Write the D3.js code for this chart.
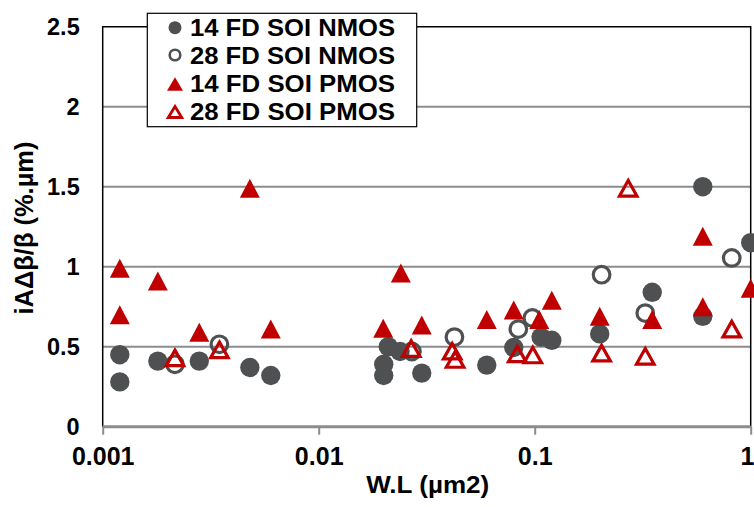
<!DOCTYPE html>
<html>
<head>
<meta charset="utf-8">
<script src="https://cdn.jsdelivr.net/npm/d3@7"></script>
<style>
  html, body { margin: 0; padding: 0; background: #fff; }
  svg { display: block; }
  text { font-family: "Liberation Sans", Arial, sans-serif; font-weight: bold; fill: #000; }
</style>
</head>
<body>
<svg id="chart" width="754" height="507"></svg>
<script>
// ---- data ----
const seriesNames = ["14 FD SOI NMOS", "28 FD SOI NMOS", "14 FD SOI PMOS", "28 FD SOI PMOS"];

const nmos14X = [0.0012, 0.0012, 0.0018, 0.0028, 0.0048, 0.006, 0.02, 0.02, 0.021, 0.0238, 0.03, 0.06, 0.08, 0.107, 0.12, 0.2, 0.35, 0.6, 0.6, 1.0];
const nmos14Y = [0.45, 0.28, 0.41, 0.41, 0.37, 0.32, 0.39, 0.32, 0.50, 0.47, 0.335, 0.385, 0.495, 0.56, 0.54, 0.58, 0.84, 1.50, 0.69, 1.15];

const nmos28X = [0.00216, 0.00347, 0.027, 0.0425, 0.084, 0.0975, 0.204, 0.325, 0.817];
const nmos28Y = [0.39, 0.515, 0.47, 0.56, 0.61, 0.68, 0.95, 0.71, 1.055];

const pmos14X = [0.0012, 0.0012, 0.0018, 0.0028, 0.0048, 0.006, 0.0199, 0.024, 0.030, 0.06, 0.08, 0.105, 0.12, 0.2, 0.35, 0.6, 0.6, 1.0];
const pmos14Y = [0.99, 0.70, 0.91, 0.59, 1.49, 0.61, 0.615, 0.96, 0.636, 0.67, 0.73, 0.67, 0.79, 0.69, 0.67, 1.19, 0.75, 0.865];

const pmos28X = [0.00216, 0.00347, 0.0268, 0.0415, 0.0428, 0.083, 0.098, 0.204, 0.271, 0.325, 0.817];
const pmos28Y = [0.43, 0.48, 0.488, 0.472, 0.42, 0.455, 0.448, 0.46, 1.49, 0.44, 0.61];

const xTickValues = [0.001, 0.01, 0.1, 1];
const xTickLabels = ["0.001", "0.01", "0.1", "1"];
const yTickValues = [0, 0.5, 1, 1.5, 2, 2.5];
const yTickLabels = ["0", "0.5", "1", "1.5", "2", "2.5"];
const xTitle = "W.L (µm2)";
const yTitle = "iAΔβ/β (%.µm)";

// ---- layout / style ----
const L = 102.7, R = 750.7, T = 26.7, B = 426.7;
const gray = "#4f5052", red = "#c00000", gridC = "#8c8c8c";

const svg = d3.select("#chart");
const x = d3.scaleLog().domain([0.001, 1]).range([L, R]);
const y = d3.scaleLinear().domain([0, 2.5]).range([B, T]);

// gridlines
svg.append("g").selectAll("line")
  .data(yTickValues.filter(v => v > 0 && v < 2.5))
  .join("line")
  .attr("x1", L).attr("x2", R)
  .attr("y1", d => y(d)).attr("y2", d => y(d))
  .attr("stroke", gridC).attr("stroke-width", 2);

// plot border (top, right, left)
svg.append("path")
  .attr("d", `M${L},${B}V${T}H${R}V${B}`)
  .attr("fill", "none").attr("stroke", "#000").attr("stroke-width", 1.5);

// x axis
const xAxis = svg.append("g").attr("transform", `translate(0,${B})`)
  .call(d3.axisBottom(x).tickValues(xTickValues)
    .tickFormat((d, i) => xTickLabels[i]).tickSize(8).tickPadding(13));
xAxis.select(".domain").attr("stroke", gridC).attr("stroke-width", 3)
  .attr("d", `M${L},0H${R}`);
xAxis.selectAll(".tick line").attr("stroke", gridC).attr("stroke-width", 2);
xAxis.selectAll(".tick text")
  .style("font-size", "25px").style("font-family", "Liberation Sans, Arial, sans-serif")
  .style("font-weight", "bold").attr("fill", "#000")
  .attr("dy", "0.71em")
  .each(function (d) {
    if (d === 1) d3.select(this).attr("text-anchor", "end").attr("x", 754 - x(1));
  });

// y axis
const yAxis = svg.append("g").attr("transform", `translate(${L},0)`)
  .call(d3.axisLeft(y).tickValues(yTickValues)
    .tickFormat((d, i) => yTickLabels[i]).tickSize(0).tickPadding(23));
yAxis.select(".domain").remove();
yAxis.selectAll(".tick text")
  .style("font-size", "23.5px").style("font-family", "Liberation Sans, Arial, sans-serif")
  .style("font-weight", "bold").attr("fill", "#000");

// axis titles
svg.append("text").attr("x", (L + R) / 2 + 1).attr("y", 492.5)
  .attr("text-anchor", "middle").style("font-size", "24px")
  .attr("textLength", 123).attr("lengthAdjust", "spacingAndGlyphs")
  .text(xTitle);

svg.append("text")
  .attr("transform", "translate(33,228) rotate(-90)")
  .attr("text-anchor", "middle").style("font-size", "25px")
  .attr("textLength", 173).attr("lengthAdjust", "spacingAndGlyphs")
  .text(yTitle);

// markers
function triPath(w, h) {
  return `M0,${-h / 2}L${w / 2},${h / 2}L${-w / 2},${h / 2}Z`;
}
const zip = (xs, ys) => xs.map((v, i) => [v, ys[i]]);

const gPts = svg.append("g");
gPts.append("g").selectAll("circle").data(zip(nmos14X, nmos14Y)).join("circle")
  .attr("cx", d => x(d[0])).attr("cy", d => y(d[1])).attr("r", 9.7).attr("fill", gray);

gPts.append("g").selectAll("circle").data(zip(nmos28X, nmos28Y)).join("circle")
  .attr("cx", d => x(d[0])).attr("cy", d => y(d[1])).attr("r", 8.3)
  .attr("fill", "none").attr("stroke", gray).attr("stroke-width", 3.2);

gPts.append("g").selectAll("path").data(zip(pmos14X, pmos14Y)).join("path")
  .attr("transform", d => `translate(${x(d[0])},${y(d[1])})`)
  .attr("d", triPath(20, 19)).attr("fill", red);

gPts.append("g").selectAll("path").data(zip(pmos28X, pmos28Y)).join("path")
  .attr("transform", d => `translate(${x(d[0])},${y(d[1])})`)
  .attr("d", triPath(17.5, 15.5)).attr("fill", "#fff").attr("fill-opacity", 0)
  .attr("stroke", red).attr("stroke-width", 3.2).attr("stroke-linejoin", "miter");

// legend
const lg = svg.append("g");
lg.append("rect").attr("x", 147.3).attr("y", 13.3).attr("width", 269.4).attr("height", 113.4)
  .attr("fill", "#fff").attr("stroke", "#000").attr("stroke-width", 1.2);
const rowsBase = [35.5, 63.5, 92, 119.5];
const rowsMid = [27.7, 55, 84, 112];
const mx = 175;
lg.append("circle").attr("cx", mx).attr("cy", rowsMid[0]).attr("r", 6.5).attr("fill", gray);
lg.append("circle").attr("cx", mx).attr("cy", rowsMid[1]).attr("r", 5.3)
  .attr("fill", "none").attr("stroke", gray).attr("stroke-width", 2.6);
lg.append("path").attr("transform", `translate(${mx},${rowsMid[2]})`).attr("d", triPath(16, 13.5)).attr("fill", red);
lg.append("path").attr("transform", `translate(${mx},${rowsMid[3]})`).attr("d", triPath(13.5, 11))
  .attr("fill", "none").attr("stroke", red).attr("stroke-width", 2.8);
lg.selectAll("text.lt").data(seriesNames).join("text").attr("class", "lt")
  .attr("x", 190).attr("y", (d, i) => rowsBase[i])
  .style("font-size", "24px")
  .attr("textLength", 205).attr("lengthAdjust", "spacingAndGlyphs")
  .text(d => d);
</script>
</body>
</html>
